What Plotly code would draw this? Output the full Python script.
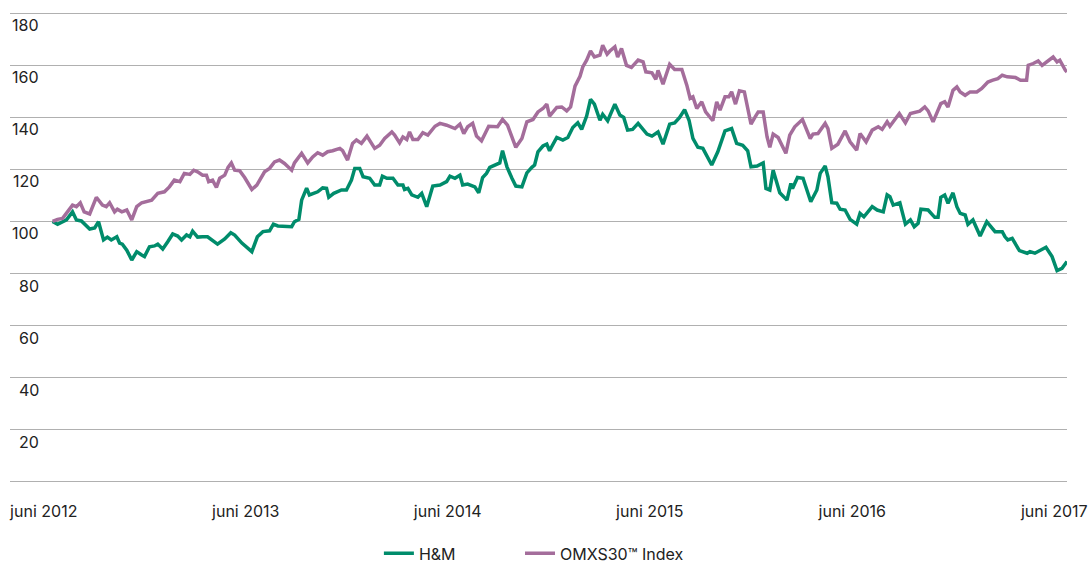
import plotly.graph_objects as go

# ---------------- data ----------------
hm_dates = [
 "2012-06-17","2012-06-26","2012-07-12","2012-07-23","2012-07-30","2012-08-08","2012-08-23","2012-09-01",
 "2012-09-08","2012-09-17","2012-09-24","2012-10-01","2012-10-11","2012-10-16","2012-10-21","2012-10-29",
 "2012-11-07","2012-11-16","2012-11-25","2012-11-30","2012-12-09","2012-12-18","2012-12-24","2013-01-02",
 "2013-01-11","2013-01-20","2013-01-29","2013-02-05","2013-02-14","2013-02-20","2013-02-25","2013-03-06",
 "2013-03-15","2013-03-24","2013-04-11","2013-04-24","2013-05-05","2013-05-12","2013-05-25","2013-06-12",
 "2013-06-22","2013-07-02","2013-07-14","2013-07-21","2013-07-29","2013-08-23","2013-08-28","2013-09-05",
 "2013-09-10","2013-09-19","2013-09-24","2013-10-09","2013-10-18","2013-10-25","2013-10-29","2013-11-07",
 "2013-11-21","2013-11-30","2013-12-09","2013-12-15","2013-12-24","2013-12-30","2014-01-11","2014-01-20",
 "2014-01-29","2014-02-03","2014-02-11","2014-02-22","2014-03-03","2014-03-12","2014-03-15","2014-03-21",
 "2014-03-28","2014-04-08","2014-04-15","2014-04-24","2014-05-05","2014-05-18","2014-05-30","2014-06-05",
 "2014-06-14","2014-06-23","2014-06-28","2014-07-07","2014-07-20","2014-07-27","2014-08-03","2014-08-10",
 "2014-08-16","2014-08-30","2014-09-03","2014-09-08","2014-09-16","2014-09-25","2014-10-02","2014-10-13",
 "2014-10-22","2014-10-31","2014-11-05","2014-11-11","2014-11-20","2014-11-27","2014-12-02","2014-12-15",
 "2014-12-26","2015-01-04","2015-01-13","2015-01-22","2015-01-29","2015-02-07","2015-02-14","2015-02-21",
 "2015-03-03","2015-03-08","2015-03-17","2015-03-30","2015-04-08","2015-04-15","2015-04-22","2015-05-01",
 "2015-05-11","2015-05-27","2015-06-05","2015-06-16","2015-06-25","2015-07-07","2015-07-16","2015-07-25",
 "2015-08-03","2015-08-11","2015-08-18","2015-08-27","2015-09-05","2015-09-21","2015-10-02","2015-10-15",
 "2015-10-27","2015-11-05","2015-11-16","2015-11-25","2015-12-01","2015-12-12","2015-12-23","2015-12-28",
 "2016-01-04","2016-01-10","2016-01-22","2016-02-04","2016-02-11","2016-02-14","2016-02-23","2016-03-04",
 "2016-03-11","2016-03-18","2016-03-29","2016-04-04","2016-04-13","2016-04-18","2016-04-25","2016-05-04",
 "2016-05-10","2016-05-19","2016-05-28","2016-06-09","2016-06-15","2016-06-22","2016-07-07","2016-07-16",
 "2016-07-27","2016-08-03","2016-08-08","2016-08-14","2016-08-26","2016-09-05","2016-09-14","2016-09-21",
 "2016-09-28","2016-10-03","2016-10-16","2016-10-28","2016-11-03","2016-11-08","2016-11-15","2016-11-21",
 "2016-11-30","2016-12-07","2016-12-13","2016-12-22","2016-12-27","2017-01-05","2017-01-18","2017-01-30",
 "2017-02-14","2017-02-27","2017-03-04","2017-03-09","2017-03-17","2017-03-30","2017-04-13","2017-04-18",
 "2017-04-27","2017-05-10","2017-05-17","2017-05-28","2017-06-06","2017-06-15","2017-06-24",
]
hm_values = [
 100.0, 98.9, 100.6, 103.7, 100.6, 100.2, 97.1, 97.5,
 99.9, 92.9, 94.0, 92.9, 94.1, 91.7, 91.3, 89.0,
 85.2, 88.4, 87.1, 86.5, 90.3, 90.6, 91.3, 89.4,
 92.2, 95.2, 94.4, 92.9, 94.8, 94.1, 96.3, 94.0,
 94.1, 94.1, 91.3, 93.3, 95.7, 94.8, 91.7, 88.4,
 94.1, 96.1, 96.4, 99.0, 98.3, 98.0, 99.9, 100.8,
 108.2, 112.8, 110.2, 111.4, 112.9, 112.7, 109.3, 110.8,
 112.1, 112.1, 115.9, 120.4, 120.4, 117.2, 116.6, 114.0,
 114.0, 117.4, 116.6, 116.6, 114.0, 114.0, 112.3, 112.7,
 110.2, 109.3, 110.8, 105.7, 113.6, 114.0, 115.3, 117.4,
 116.6, 117.8, 114.0, 114.4, 113.3, 111.0, 116.9, 118.5,
 120.8, 122.3, 122.5, 127.2, 121.0, 116.6, 113.6, 113.3,
 118.7, 120.8, 121.7, 126.8, 129.0, 129.7, 127.2, 132.3,
 131.3, 132.3, 136.1, 137.9, 135.4, 140.5, 146.9, 145.1,
 138.9, 141.2, 138.7, 145.1, 140.9, 140.0, 135.1, 135.4,
 137.7, 133.6, 132.8, 134.4, 129.7, 137.4, 137.9, 140.0,
 143.0, 138.9, 131.9, 128.5, 128.1, 121.7, 126.8, 134.8,
 135.7, 130.0, 129.3, 127.2, 121.0, 121.3, 122.5, 112.7,
 112.1, 119.7, 111.0, 108.2, 114.6, 112.7, 116.9, 116.6,
 112.1, 107.6, 112.1, 118.5, 121.3, 117.2, 107.2, 107.0,
 104.7, 104.4, 100.8, 99.0, 103.1, 101.8, 105.7, 104.4,
 103.7, 110.2, 109.5, 106.3, 107.2, 99.0, 100.6, 98.0,
 99.3, 104.7, 104.4, 101.6, 101.6, 109.3, 110.2, 107.0,
 111.0, 105.7, 103.1, 102.5, 98.9, 100.6, 94.4, 99.9,
 96.1, 96.1, 94.1, 92.9, 93.5, 88.8, 87.8, 88.4,
 87.8, 89.3, 90.1, 86.5, 81.1, 82.0, 84.6,
]

omx_dates = [
 "2012-06-17","2012-06-26","2012-07-05","2012-07-14","2012-07-23","2012-07-30","2012-08-06","2012-08-13",
 "2012-08-23","2012-09-04","2012-09-15","2012-09-22","2012-09-28","2012-10-07","2012-10-12","2012-10-20",
 "2012-10-29","2012-11-07","2012-11-16","2012-11-25","2012-12-04","2012-12-13","2012-12-24","2013-01-05",
 "2013-01-14","2013-01-23","2013-02-02","2013-02-10","2013-02-20","2013-02-27","2013-03-06","2013-03-15",
 "2013-03-22","2013-03-26","2013-04-02","2013-04-09","2013-04-15","2013-04-24","2013-04-30","2013-05-06",
 "2013-05-12","2013-05-21","2013-05-30","2013-06-12","2013-06-21","2013-06-26","2013-07-05","2013-07-14",
 "2013-07-23","2013-08-01","2013-08-10","2013-08-23","2013-08-28","2013-09-10","2013-09-21","2013-09-30",
 "2013-10-09","2013-10-18","2013-10-27","2013-11-05","2013-11-18","2013-11-23","2013-12-02","2013-12-11",
 "2013-12-18","2013-12-27","2014-01-06","2014-01-20","2014-01-29","2014-02-07","2014-02-20","2014-02-25",
 "2014-03-06","2014-03-12","2014-03-19","2014-03-24","2014-03-30","2014-04-08","2014-04-17","2014-04-26",
 "2014-05-09","2014-05-18","2014-05-30","2014-06-14","2014-06-23","2014-06-30","2014-07-07","2014-07-16",
 "2014-07-23","2014-08-01","2014-08-14","2014-08-30","2014-09-08","2014-09-17","2014-09-25","2014-10-02",
 "2014-10-13","2014-10-22","2014-11-02","2014-11-11","2014-11-20","2014-11-27","2014-12-02","2014-12-15",
 "2014-12-24","2015-01-02","2015-01-09","2015-01-17","2015-01-26","2015-01-31","2015-02-07","2015-02-14",
 "2015-02-21","2015-03-03","2015-03-08","2015-03-16","2015-03-21","2015-03-30","2015-04-04","2015-04-11",
 "2015-04-20","2015-04-29","2015-05-11","2015-05-20","2015-05-25","2015-06-05","2015-06-12","2015-06-16",
 "2015-06-25","2015-07-07","2015-07-16","2015-07-29","2015-08-07","2015-08-13","2015-08-18","2015-08-25",
 "2015-09-03","2015-09-10","2015-09-23","2015-09-30","2015-10-06","2015-10-15","2015-10-22","2015-10-27",
 "2015-11-03","2015-11-10","2015-11-19","2015-12-01","2015-12-08","2015-12-14","2015-12-23","2015-12-30",
 "2016-01-04","2016-01-10","2016-01-19","2016-01-28","2016-02-02","2016-02-09","2016-02-18","2016-03-03",
 "2016-03-10","2016-03-17","2016-03-22","2016-03-31","2016-04-13","2016-04-18","2016-04-25","2016-05-06",
 "2016-05-19","2016-05-28","2016-06-09","2016-06-15","2016-06-26","2016-07-07","2016-07-18","2016-07-25",
 "2016-08-03","2016-08-08","2016-08-25","2016-09-05","2016-09-14","2016-09-23","2016-10-01","2016-10-10",
 "2016-10-16","2016-10-25","2016-11-01","2016-11-08","2016-11-15","2016-11-21","2016-11-30","2016-12-07",
 "2016-12-13","2016-12-22","2016-12-31","2017-01-12","2017-01-21","2017-02-01","2017-02-10","2017-02-19",
 "2017-02-27","2017-03-08","2017-03-23","2017-04-01","2017-04-12","2017-04-15","2017-04-24","2017-05-03",
 "2017-05-10","2017-05-21","2017-05-30","2017-06-06","2017-06-11","2017-06-21","2017-06-24",
]
omx_values = [
 100.0, 100.8, 101.2, 103.7, 106.3, 105.7, 107.2, 103.7,
 102.9, 109.3, 106.3, 105.7, 107.2, 103.7, 104.7, 103.7,
 104.4, 100.6, 105.7, 107.2, 107.6, 108.2, 110.8, 111.4,
 113.3, 115.9, 115.3, 118.5, 118.1, 119.7, 119.1, 117.8,
 117.8, 115.3, 115.9, 113.1, 116.6, 117.8, 120.8, 122.5,
 119.7, 119.5, 116.9, 112.3, 114.0, 115.6, 119.1, 120.4,
 122.9, 123.6, 122.3, 119.7, 122.5, 126.2, 122.5, 124.8,
 126.4, 125.5, 126.8, 127.2, 128.1, 127.2, 123.6, 130.0,
 131.3, 130.0, 132.8, 128.1, 129.3, 131.9, 134.4, 133.2,
 130.2, 132.5, 131.5, 134.4, 131.5, 131.5, 134.1, 133.2,
 136.6, 137.7, 137.0, 135.7, 137.4, 133.8, 136.4, 137.7,
 132.8, 131.0, 136.6, 136.4, 139.2, 137.0, 132.5, 128.5,
 131.9, 138.3, 139.2, 142.1, 143.4, 145.1, 140.5, 143.8,
 144.0, 142.5, 144.0, 152.0, 155.8, 159.4, 162.0, 165.5,
 163.2, 163.9, 167.7, 164.3, 165.5, 167.1, 163.2, 166.5,
 160.0, 159.2, 162.0, 161.3, 157.5, 157.1, 154.6, 158.1,
 152.8, 160.4, 158.4, 158.4, 152.4, 147.3, 147.9, 143.4,
 146.0, 142.1, 138.7, 146.0, 142.8, 147.9, 147.9, 149.8,
 145.1, 150.2, 149.8, 137.4, 140.0, 142.1, 142.1, 132.5,
 128.5, 133.6, 132.3, 128.7, 126.2, 133.2, 136.4, 139.2,
 135.7, 131.9, 133.6, 133.8, 137.7, 135.7, 128.1, 129.7,
 134.8, 130.6, 127.4, 133.8, 130.6, 135.1, 136.4, 135.4,
 138.3, 136.6, 141.5, 137.9, 141.5, 142.1, 142.4, 144.0,
 142.5, 138.3, 142.1, 145.3, 146.0, 144.0, 150.4, 151.7,
 149.8, 148.5, 149.8, 149.8, 151.1, 153.6, 154.3, 154.9,
 156.2, 155.6, 155.3, 154.3, 154.3, 160.0, 160.7, 161.7,
 160.0, 161.7, 163.2, 161.3, 162.0, 158.1, 157.5,
]

series_names = ["H&M", "OMXS30\u2122 Index"]
series_colors = ["#008c6b", "#a46d9b"]

y_ticks = [20, 40, 60, 80, 100, 120, 140, 160, 180]
y_grid = [0, 20, 40, 60, 80, 100, 120, 140, 160, 180]
x_ticks = ["2012-06-01", "2013-06-01", "2014-06-01", "2015-06-01", "2016-06-01", "2017-06-01"]
x_labels = ["juni 2012", "juni 2013", "juni 2014", "juni 2015", "juni 2016", "juni 2017"]

FONT = "Inter, 'Noto Sans', sans-serif"
TXT = "#222222"

fig = go.Figure()
for name, xs, ys, col, lg in [(series_names[0], hm_dates, hm_values, series_colors[0], "legend"),
                              (series_names[1], omx_dates, omx_values, series_colors[1], "legend2")]:
    fig.add_trace(go.Scatter(x=xs, y=ys, mode="lines", name=name, legend=lg,
                             line=dict(color=col, width=3.5, shape="linear")))

annotations = []
for v in y_ticks:
    annotations.append(dict(x=0.0293, xref="paper", y=v, yref="y", text=str(v),
                            showarrow=False, xanchor="right", yanchor="middle",
                            yshift=-12, font=dict(family=FONT, size=16, color=TXT)))

legend_common = dict(orientation="h", xanchor="left", y=0.017, yanchor="middle",
                     yref="container", bgcolor="rgba(0,0,0,0)",
                     font=dict(family=FONT, size=16, color=TXT))

fig.update_layout(
    width=1089, height=563,
    margin=dict(l=10, r=22, t=12, b=80, autoexpand=False),
    paper_bgcolor="white", plot_bgcolor="white",
    font=dict(family=FONT, size=16, color=TXT),
    showlegend=True,
    legend=dict(x=0.349, **legend_common),
    legend2=dict(x=0.4825, **legend_common),
    annotations=annotations,
    xaxis=dict(type="date", range=["2012-04-01", "2017-06-24"], automargin=False,
               tickvals=x_ticks, ticktext=x_labels, showgrid=False, zeroline=False,
               showline=False, ticks="outside", ticklen=14, tickcolor="rgba(0,0,0,0)",
               tickfont=dict(family=FONT, size=16, color=TXT)),
    yaxis=dict(range=[-0.5, 180.5], tickvals=y_grid, showticklabels=False, showgrid=True,
               automargin=False,
               gridcolor="#b0b0b0", gridwidth=1.3, zeroline=False, showline=False),
)

fig.write_html("out.html", config={"displayModeBar": False},
               post_script="document.body.style.margin='0';document.body.style.padding='0';")
